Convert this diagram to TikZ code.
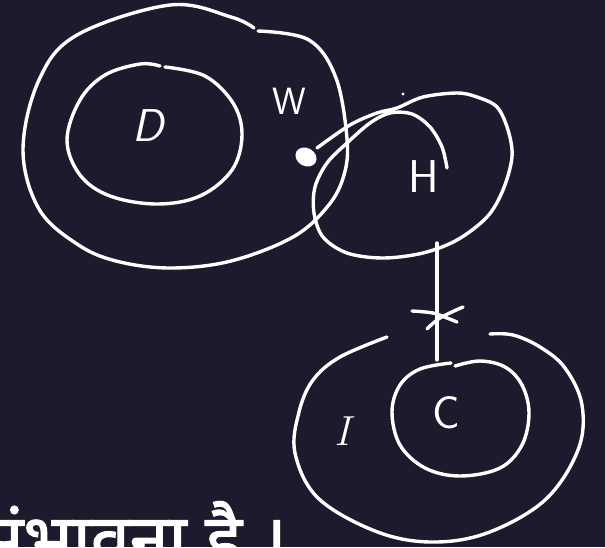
\documentclass[tikz,border=0pt]{standalone}
\usepackage{fontspec}
\newfontfamily\devfont[Script=Devanagari,FakeBold=1.6]{Noto Sans}
\definecolor{bg}{RGB}{30,26,46}
\begin{document}
\begin{tikzpicture}[x=1pt,y=-1pt,
  ink/.style={draw=white,line width=3.4pt,line cap=round,line join=round},
  lbl/.style={text=white,inner sep=0pt,font=\sffamily\fontsize{46}{46}\selectfont},
  smallbl/.style={text=white,inner sep=0pt,font=\sffamily\fontsize{38}{38}\selectfont}]
\fill[bg] (0,0) rectangle (605,547);
\useasboundingbox (0,0) rectangle (605,547);
% big W region
\draw[ink] plot[smooth,tension=0.6] coordinates {(258,31) (309,40) (336,78) (347,139) (344,175) (328,206) (293,237) (231,261) (170,268) (116,261) (77,244) (39,209) (23,150) (39,80) (77,35) (170,5) (231,17) (254,28)};
% D region
\draw[ink] plot[smooth,tension=0.6] coordinates {(165,67) (205,76) (233,103) (242,135) (232,170) (200,196) (157,204) (110,196) (80,175) (67,140) (80,100) (105,75) (140,64) (160,66)};
% H stroke
\draw[ink] plot[smooth,tension=0.55] coordinates {(317,148) (350,125) (377,113) (397,108) (423,97) (457,93) (477,97) (497,107) (508,130) (512,157) (503,190) (487,217) (457,240) (423,253) (383,258) (347,253) (323,237) (314,213) (315,187) (327,163) (347,143) (370,123) (390,113) (412,114) (430,127) (442,147) (447,168)};
% blob
\fill[white,rotate around={-30:(306,157)}] (306,157) ellipse [x radius=11pt,y radius=9pt];
\fill[white] (403,94) circle [radius=1.6pt];
% I region (open at top)
\draw[ink] plot[smooth,tension=0.6] coordinates {(387,337) (340,357) (313,380) (299,412) (295,453) (318,498) (375,531) (430,542) (487,533) (545,500) (578,450) (582,405) (565,368) (540,347) (513,335) (490,334)};
% C region
\draw[ink] plot[smooth,tension=0.6] coordinates {(455,366) (480,361) (505,367) (522,385) (529,413) (522,445) (500,468) (460,476) (425,468) (400,445) (392,412) (400,385) (420,369) (451,363)};
% connector H -- C
\coordinate (hb) at (437,243);
\coordinate (ct) at (437,360);
\draw[ink] (hb) -- (ct);
% cross mark
\draw[ink] plot[smooth,tension=0.6] coordinates {(412,311) (433,313) (447,318) (457,322)};
\draw[ink] plot[smooth,tension=0.6] coordinates {(427,329) (440,318) (463,307)};
% labels
\node[lbl] (d) at (149,126) {\textit{D}};
\node[smallbl] (w) at (289,101) {W};
\node[lbl] (h) at (424,177) {H};
\node[lbl,font=\rmfamily\fontsize{42}{42}\selectfont] (i) at (345,431) {\textit{I}};
\node[lbl] (c) at (446,413) {C};
% Hindi text
\node[anchor=base east,text=white,inner sep=0pt,font=\devfont\fontsize{70}{70}\selectfont] (txt) at (287,564) {संभावना है ।};
\end{tikzpicture}
\end{document}
